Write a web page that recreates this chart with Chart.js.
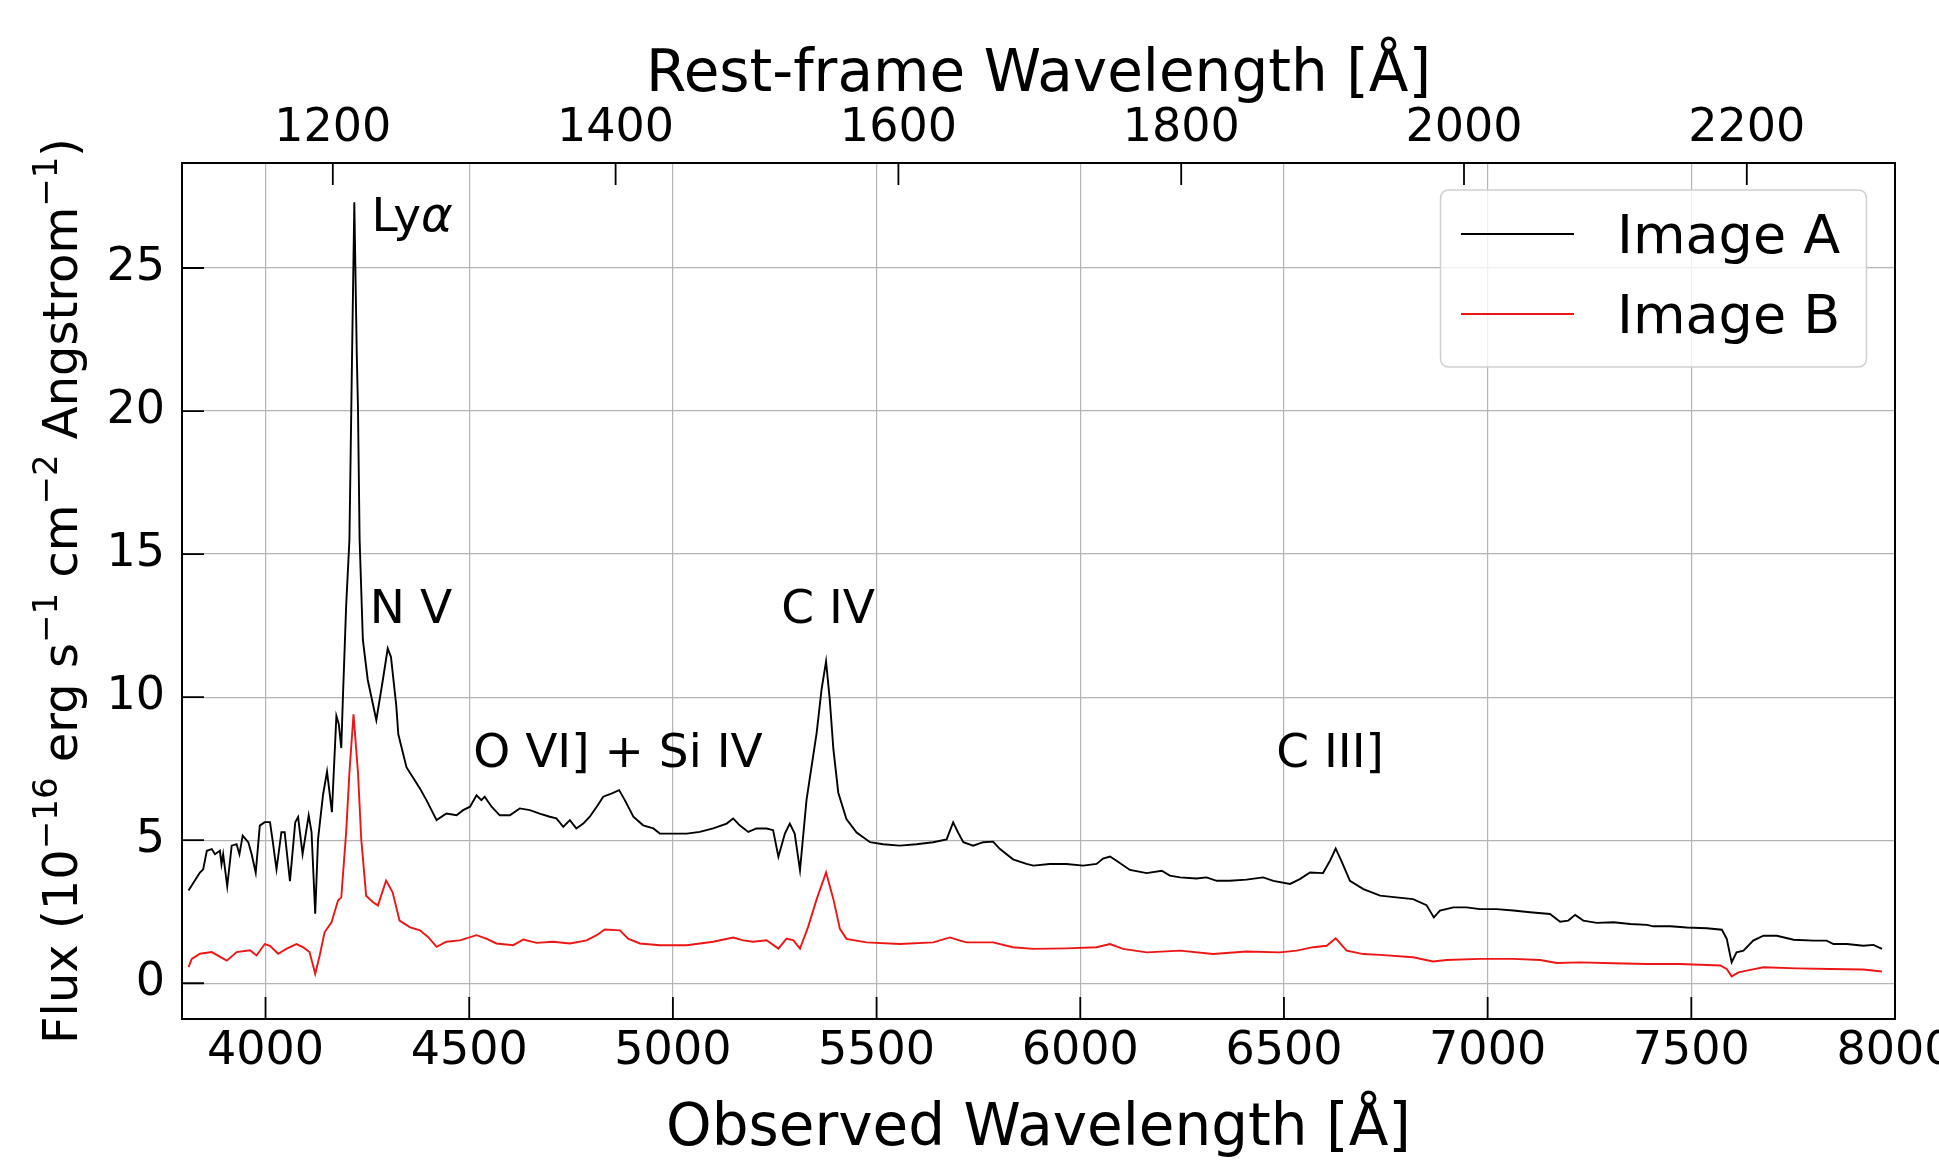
<!DOCTYPE html>
<html><head><meta charset="utf-8">
<script src="https://cdn.jsdelivr.net/npm/chart.js@4"></script>
<style>html,body{margin:0;padding:0;background:#fff;}canvas{display:block;}</style>
</head><body>
<canvas id="c" width="1939" height="1160"></canvas>
<script>
const waveA = [3811,3823,3839,3847,3856,3868,3876,3888,3892,3896,3906,3917,3929,3936,3944,3958,3966,3976,3986,3998,4011,4017,4027,4039,4047,4060,4073,4080,4091,4106,4113,4122,4129,4141,4151,4163,4174,4180,4186,4190,4198,4206,4212,4218,4224,4227,4231,4239,4251,4272,4288,4300,4308,4321,4326,4346,
  4379,4395,4420,4444,4469,4485,4502,4518,4530,4538,4555,4575,4600,4624,4649,4673,4698,4714,4731,4747,4763,4780,4796,4813,4829,4849,4868,4882,4903,4927,4952,4968,5001,5034,5066,5099,5132,5148,5164,5185,5205,5230,5246,5259,5275,5287,5299,5312,5328,
  5353,5365,5376,5385,5394,5406,5426,5451,5484,5516,5557,5598,5639,5672,5688,5700,5713,5737,5762,5786,5803,5835,5868,5885,5925,5966,6007,6040,6056,6073,6089,6122,6163,6200,6220,6245,6285,6310,6335,6367,6408,6449,6474,6515,6539,6564,6596,6613,6627,6641,6662,6695,6736,6776,6817,6850,6868,6883,6916,6948,6981,7022,7063,7104,7153,7178,7198,7215,7235,7268,7309,7350,7391,7407,7448,7489,7538,7575,7587,7599,7611,7628,7652,7677,7710,7751,7800,7832,7849,7882,7922,7947,7968];
const fluxA = [3.24,3.51,3.87,3.98,4.63,4.69,4.51,4.63,4.16,4.51,3.39,4.81,4.86,4.51,5.16,4.92,4.51,3.86,5.51,5.63,5.63,5.04,3.98,5.28,5.28,3.57,5.63,5.81,4.51,5.87,5.28,2.43,5.04,6.57,7.40,5.98,9.34,9.05,8.22,9.99,13.2,15.5,21.5,27.3,22.0,20.1,15.5,12.0,10.6,9.2,10.6,11.7,11.4,9.7,8.7,7.55,
  6.81,6.40,5.70,5.93,5.87,6.05,6.17,6.57,6.40,6.52,6.17,5.87,5.87,6.11,6.05,5.93,5.82,5.76,5.47,5.70,5.41,5.58,5.82,6.17,6.52,6.63,6.75,6.40,5.82,5.52,5.41,5.23,5.23,5.23,5.29,5.41,5.58,5.76,5.52,5.29,5.41,5.41,5.35,4.42,5.23,5.58,5.23,3.95,6.40,
  8.76,10.27,11.25,9.93,8.18,6.66,5.74,5.27,4.93,4.86,4.81,4.86,4.93,5.03,5.62,5.27,4.93,4.81,4.93,4.95,4.69,4.33,4.17,4.11,4.17,4.17,4.11,4.17,4.36,4.43,4.28,3.96,3.85,3.93,3.76,3.70,3.66,3.70,3.58,3.58,3.62,3.70,3.58,3.47,3.64,3.87,3.85,4.28,4.71,4.28,3.58,3.29,3.06,3.00,2.94,2.73,2.30,2.54,2.65,2.65,2.59,2.59,2.54,2.48,2.42,2.15,2.19,2.39,2.19,2.11,2.13,2.07,2.04,1.99,1.99,1.95,1.92,1.87,1.55,0.73,1.08,1.14,1.49,1.66,1.66,1.52,1.49,1.49,1.37,1.37,1.31,1.34,1.20];
const waveB = [3811,3819,3839,3868,3905,3929,3962,3978,3998,4011,4031,4051,4076,4092,4108,4122,4133,4145,4162,4178,4186,4198,4206,4216,4227,4235,4247,4264,4276,4296,4312,4329,4354,
  4379,4399,4420,4444,4477,4518,4542,4567,4608,4633,4665,4706,4747,4788,4813,4833,4870,4890,4919,4968,5034,5099,5148,5173,5197,5230,5259,5279,5296,5312,5332,
  5353,5376,5394,5410,5426,5475,5557,5639,5680,5705,5721,5786,5835,5885,5966,6040,6073,6105,6163,6245,6326,6408,6490,6531,6572,6605,6627,6654,6695,6736,6817,6866,6899,6981,7063,7129,7170,7227,7309,7391,7472,7571,7587,7599,7616,7636,7677,7759,7841,7922,7968];
const fluxB = [0.56,0.85,1.03,1.09,0.79,1.09,1.15,0.97,1.37,1.31,1.03,1.20,1.37,1.26,1.09,0.33,0.97,1.78,2.13,2.89,3.0,5.28,7.37,9.40,7.37,5.04,3.06,2.83,2.72,3.59,3.18,2.19,1.96,
  1.85,1.62,1.27,1.45,1.50,1.68,1.56,1.39,1.33,1.53,1.41,1.45,1.39,1.50,1.68,1.88,1.85,1.56,1.39,1.33,1.33,1.45,1.60,1.50,1.45,1.50,1.21,1.56,1.50,1.21,1.97,
  2.94,3.87,2.94,1.90,1.55,1.43,1.37,1.43,1.60,1.49,1.43,1.43,1.26,1.20,1.22,1.26,1.37,1.20,1.08,1.14,1.02,1.11,1.08,1.14,1.26,1.31,1.57,1.14,1.02,0.99,0.91,0.76,0.81,0.85,0.85,0.81,0.71,0.73,0.70,0.67,0.67,0.62,0.50,0.24,0.38,0.44,0.56,0.52,0.50,0.48,0.41];

const seriesNames = ['Image A', 'Image B'];
const seriesColors = ['#000000', '#ee1515'];
const obsTicks = [4000, 4500, 5000, 5500, 6000, 6500, 7000, 7500, 8000];
const restTicks = [1200, 1400, 1600, 1800, 2000, 2200];
const fluxTicks = [0, 5, 10, 15, 20, 25];
const lineLabels = ['Lyα', 'N V', 'O VI] + Si IV', 'C IV', 'C III]'];
const lineLabelX = [4260, 4256, 4510, 5266, 6481];
const lineLabelY = [26.3, 12.6, 7.55, 12.6, 7.55];
const onePlusZ = 3.471;
const xMin = 3795, xMax = 8000, yMin = -1.25, yMax = 28.67;

const FONT = 'DejaVu Sans';
Chart.defaults.font.family = FONT;
Chart.defaults.color = '#000';

const toPts = (w, f) => w.map((x, i) => ({x: x, y: f[i]}));

const decoPlugin = {
  id: 'deco',
  beforeDraw(chart) {
    const ctx = chart.ctx;
    ctx.save(); ctx.fillStyle = '#fff'; ctx.fillRect(0, 0, chart.width, chart.height); ctx.restore();
  },
  afterDatasetsDraw(chart) {
    const ctx = chart.ctx, a = chart.chartArea;
    const xs = chart.scales.x, xt = chart.scales.xTop, ys = chart.scales.y;
    ctx.save();
    ctx.strokeStyle = '#000'; ctx.lineWidth = 1.8;
    const TL = 22;
    ctx.beginPath();
    xs.ticks.forEach(t => { const p = xs.getPixelForValue(t.value); ctx.moveTo(p, a.bottom); ctx.lineTo(p, a.bottom - TL); });
    xt.ticks.forEach(t => { const p = xt.getPixelForValue(t.value); ctx.moveTo(p, a.top); ctx.lineTo(p, a.top + TL); });
    ys.ticks.forEach(t => { const p = ys.getPixelForValue(t.value); ctx.moveTo(a.left, p); ctx.lineTo(a.left + TL, p); });
    ctx.stroke();
    ctx.lineWidth = 2; ctx.strokeRect(a.left, a.top, a.right - a.left, a.bottom - a.top);
    ctx.fillStyle = '#000'; ctx.textAlign = 'left'; ctx.textBaseline = 'alphabetic';
    lineLabels.forEach((lab, i) => {
      const px = xs.getPixelForValue(lineLabelX[i]), py = ys.getPixelForValue(lineLabelY[i]);
      const gi = lab.indexOf('α');
      if (gi >= 0) {
        const pre = lab.slice(0, gi);
        ctx.font = '47px "' + FONT + '"';
        ctx.fillText(pre, px, py);
        const w = ctx.measureText(pre).width;
        ctx.font = 'italic 48px "' + FONT + '"';
        ctx.fillText('α', px + w, py);
      } else {
        ctx.font = '47px "' + FONT + '"';
        ctx.fillText(lab, px, py);
      }
    });
    ctx.restore();
  },
  afterDraw(chart) {
    const ctx = chart.ctx, a = chart.chartArea;
    ctx.save();
    const bx = 1440.5, by = 190, bw = 426, bh = 177, r = 9;
    ctx.beginPath();
    ctx.moveTo(bx + r, by); ctx.lineTo(bx + bw - r, by); ctx.quadraticCurveTo(bx + bw, by, bx + bw, by + r);
    ctx.lineTo(bx + bw, by + bh - r); ctx.quadraticCurveTo(bx + bw, by + bh, bx + bw - r, by + bh);
    ctx.lineTo(bx + r, by + bh); ctx.quadraticCurveTo(bx, by + bh, bx, by + bh - r);
    ctx.lineTo(bx, by + r); ctx.quadraticCurveTo(bx, by, bx + r, by); ctx.closePath();
    ctx.fillStyle = 'rgba(255,255,255,0.8)'; ctx.fill();
    ctx.strokeStyle = '#d0d0d0'; ctx.lineWidth = 1.5; ctx.stroke();
    chart.data.datasets.forEach((ds, i) => {
      const ly = 234 + i * 80;
      ctx.strokeStyle = ds.borderColor; ctx.lineWidth = 2.2;
      ctx.beginPath(); ctx.moveTo(1461, ly); ctx.lineTo(1574, ly); ctx.stroke();
      ctx.fillStyle = '#000'; ctx.font = '54px "' + FONT + '"';
      ctx.textAlign = 'left'; ctx.textBaseline = 'alphabetic';
      ctx.fillText(ds.label, 1617, ly + 19);
    });
    const segs = [['Flux (10', 0], ['\u221216', 1], [' erg s', 0], ['\u22121', 1], [' cm', 0], ['\u22122', 1], [' Angstrom', 0], ['\u22121', 1], [')', 0]];
    const fs = 48, ss = 34;
    const fMain = fs + 'px "' + FONT + '"', fSup = ss + 'px "' + FONT + '"';
    let total = 0;
    segs.forEach(s => { ctx.font = s[1] ? fSup : fMain; total += ctx.measureText(s[0]).width; });
    const cy = (a.top + a.bottom) / 2;
    ctx.translate(77, cy); ctx.rotate(-Math.PI / 2);
    ctx.fillStyle = '#000'; ctx.textAlign = 'left'; ctx.textBaseline = 'alphabetic';
    let x = -total / 2;
    segs.forEach(s => {
      ctx.font = s[1] ? fSup : fMain;
      ctx.fillText(s[0], x, s[1] ? -20 : 0);
      x += ctx.measureText(s[0]).width;
    });
    ctx.restore();
  }
};

const tickFont = {family: FONT, size: 46};
const setTicks = arr => scale => { scale.ticks = arr.map(v => ({value: v})); };
const plainLabel = v => String(v);

new Chart(document.getElementById('c'), {
  type: 'line',
  data: {
    datasets: [
      {label: seriesNames[0], data: toPts(waveA, fluxA), borderColor: seriesColors[0], borderWidth: 1.9, pointRadius: 0, tension: 0, fill: false},
      {label: seriesNames[1], data: toPts(waveB, fluxB), borderColor: seriesColors[1], borderWidth: 1.9, pointRadius: 0, tension: 0, fill: false}
    ]
  },
  options: {
    responsive: false, animation: false, events: [],
    layout: {padding: {left: 0, right: 44, top: 0, bottom: 0}},
    plugins: {legend: {display: false}, tooltip: {enabled: false}},
    scales: {
      x: {
        type: 'linear', position: 'bottom', min: xMin, max: xMax,
        afterBuildTicks: setTicks(obsTicks),
        afterFit: s => { s.height = 141; s.paddingLeft = 0; s.paddingRight = 0; },
        grid: {display: true, color: '#b4b4b4', lineWidth: 1.2, drawTicks: false},
        border: {display: false},
        ticks: {font: tickFont, color: '#000', padding: 5, autoSkip: false, maxRotation: 0, minRotation: 0, callback: plainLabel},
        title: {display: true, text: 'Observed Wavelength [Å]', color: '#000', font: {family: FONT, size: 58, lineHeight: 1}, padding: {top: 0, bottom: 1}}
      },
      xTop: {
        type: 'linear', position: 'top', min: xMin / onePlusZ, max: xMax / onePlusZ,
        afterBuildTicks: setTicks(restTicks),
        afterFit: s => { s.height = 163; s.paddingLeft = 0; s.paddingRight = 0; },
        grid: {display: false, drawTicks: false},
        border: {display: false},
        ticks: {font: tickFont, color: '#000', padding: 6, autoSkip: false, maxRotation: 0, minRotation: 0, callback: plainLabel},
        title: {display: true, text: 'Rest-frame Wavelength [Å]', color: '#000', font: {family: FONT, size: 58, lineHeight: 1}, padding: {top: 47, bottom: 0}}
      },
      y: {
        type: 'linear', position: 'left', min: yMin, max: yMax,
        afterBuildTicks: setTicks(fluxTicks),
        afterFit: s => { s.width = 182; s.paddingTop = 0; s.paddingBottom = 0; },
        grid: {display: true, color: '#b4b4b4', lineWidth: 1.2, drawTicks: false},
        border: {display: false},
        ticks: {font: tickFont, color: '#000', padding: 17, autoSkip: false, callback: plainLabel},
        title: {display: false}
      }
    }
  },
  plugins: [decoPlugin]
});
</script>
</body></html>
